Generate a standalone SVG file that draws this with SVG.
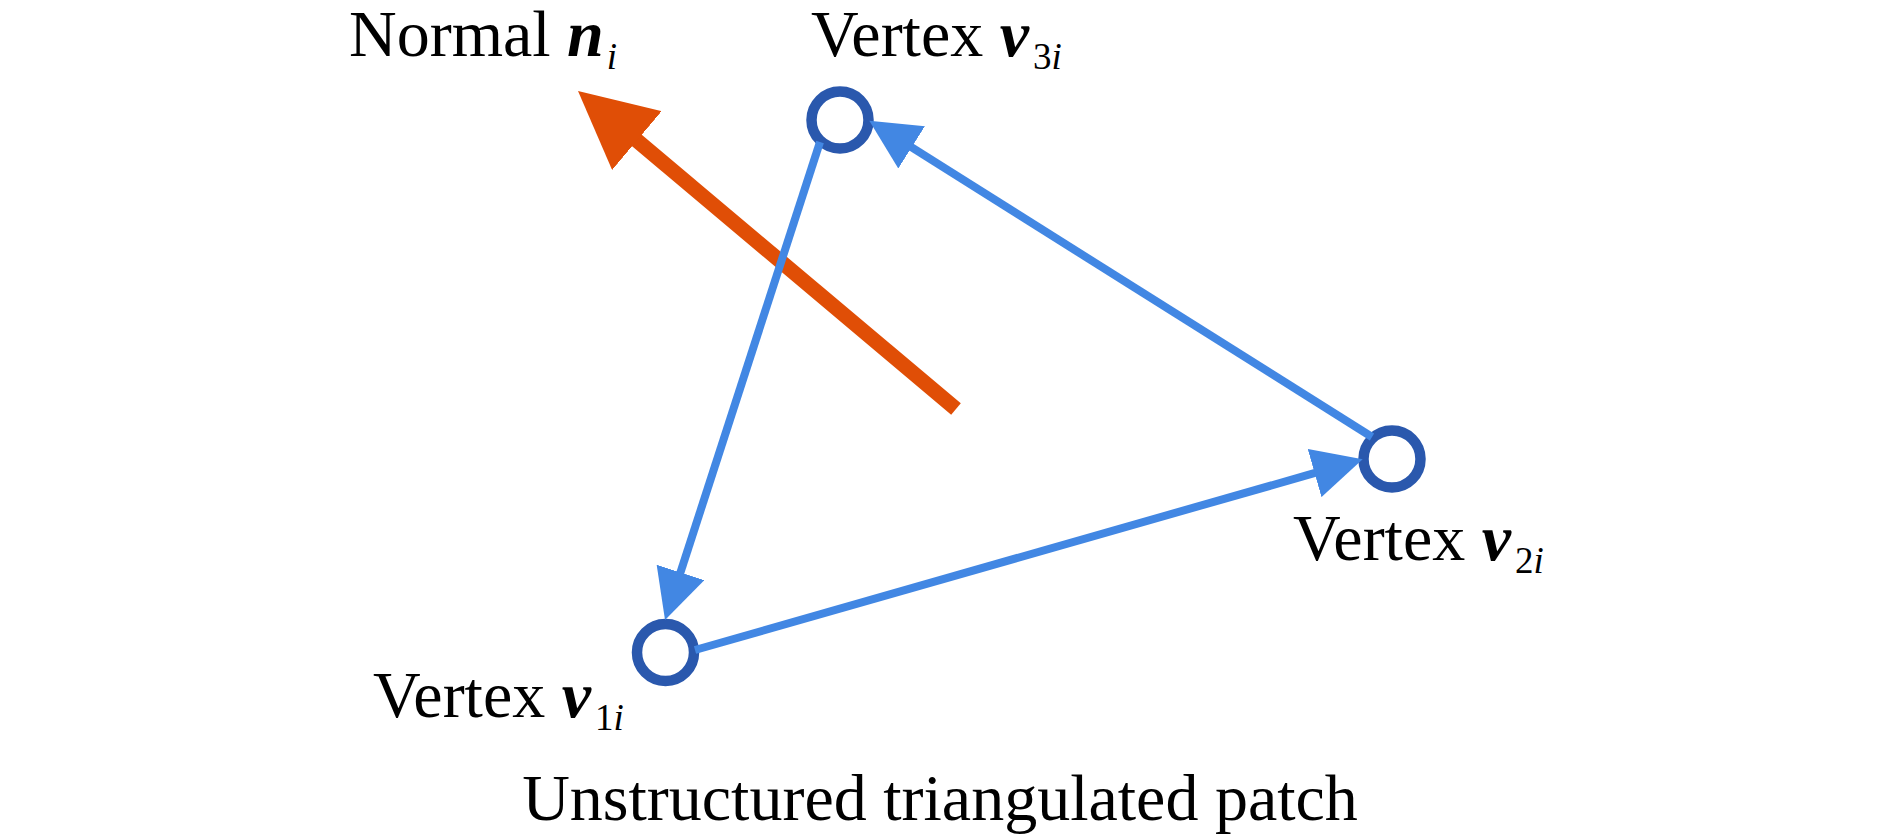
<svg xmlns="http://www.w3.org/2000/svg" width="1890" height="840" viewBox="0 0 1890 840">
<style>
.lbl{font-family:"Liberation Serif","Times New Roman",serif;font-size:66px;fill:#000}
.bi{font-weight:bold;font-style:italic}
.sub{font-size:37px}
.it{font-style:italic}
.ring{fill:#fff;stroke:#2A58AD;stroke-width:10.5}
.edge{stroke:#4287E3;stroke-width:8;fill:none}
.normal{stroke:#E04E06;stroke-width:15;fill:none}
</style>
<defs>
<marker id="ab" markerUnits="userSpaceOnUse" markerWidth="50" markerHeight="50" viewBox="0 0 50 50" refX="5" refY="25" orient="auto">
<path d="M0,0 L50,25 L0,50 Z" fill="#4287E3"/>
</marker>
<marker id="ao" markerUnits="userSpaceOnUse" markerWidth="77" markerHeight="77" viewBox="0 0 77 77" refX="5" refY="38.5" orient="auto">
<path d="M0,0 L77,38.5 L0,77 Z" fill="#E04E06"/>
</marker>
</defs>
<rect width="1890" height="840" fill="#fff"/>
<g id="v3">
<circle class="ring" cx="840" cy="120" r="28.5"/>
<text class="lbl" x="811" y="56">Vertex <tspan class="bi">v</tspan><tspan class="sub" dx="4" dy="13">3</tspan><tspan class="sub it">i</tspan></text>
</g>
<g id="v2">
<circle class="ring" cx="1392" cy="459" r="28.5"/>
<text class="lbl" x="1293" y="560">Vertex <tspan class="bi">v</tspan><tspan class="sub" dx="4" dy="13">2</tspan><tspan class="sub it">i</tspan></text>
</g>
<g id="v1">
<circle class="ring" cx="665.5" cy="652.5" r="28.5"/>
<text class="lbl" x="373" y="717">Vertex <tspan class="bi">v</tspan><tspan class="sub" dx="4" dy="13">1</tspan><tspan class="sub it">i</tspan></text>
</g>
<g id="normal">
<text class="lbl" x="349" y="56">Normal <tspan class="bi">n</tspan><tspan class="sub it" dx="3" dy="13">i</tspan></text>
</g>
<g id="caption">
<text class="lbl" x="940" y="820" text-anchor="middle">Unstructured triangulated patch</text>
</g>
<g id="connectors">
<line class="normal" x1="956" y1="409" x2="633.1" y2="137.3" marker-end="url(#ao)"/>
<line class="edge" x1="820" y1="142" x2="678.9" y2="577.2" marker-end="url(#ab)"/>
<line class="edge" x1="1372" y1="437" x2="907.4" y2="144.7" marker-end="url(#ab)"/>
<line class="edge" x1="695" y1="650" x2="1319.4" y2="471.7" marker-end="url(#ab)"/>
</g>
</svg>
